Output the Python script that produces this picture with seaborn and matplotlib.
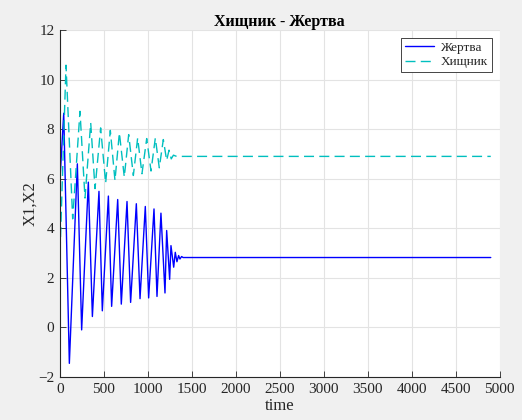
import numpy as np
import pandas as pd
import matplotlib
matplotlib.use("Agg")
import matplotlib.pyplot as plt
import seaborn as sns

# Prey (Жертва) vertices
prey_t = [0, 42, 106, 197, 246, 322, 368, 443, 481, 550, 587, 656, 697, 762, 803,
          868, 910, 970, 1008, 1069, 1103, 1148, 1194, 1213, 1247, 1262, 1293, 1311,
          1330, 1349, 1364, 1383, 1400, 4900]
prey_v = [6.0, 8.64, -1.45, 6.6, -0.1, 5.86, 0.44, 5.49, 0.67, 5.3, 0.85, 5.16, 0.94,
          5.08, 1.01, 4.99, 1.16, 4.88, 1.19, 4.78, 1.25, 4.61, 1.39, 3.91, 1.94, 3.3,
          2.43, 3.03, 2.65, 2.9, 2.76, 2.86, 2.82, 2.82]

# Predator (Хищник) vertices
pred_t = [0, 68, 144, 227, 284, 349, 398, 462, 519, 572, 625, 675, 731, 781, 834,
          883, 932, 986, 1035, 1084, 1129, 1175, 1213, 1240, 1265, 1290, 1326, 4900]
pred_v = [3.03, 10.58, 4.38, 8.72, 5.22, 8.25, 5.6, 8.05, 5.82, 7.95, 5.93, 7.85,
          6.07, 7.78, 6.13, 7.64, 6.2, 7.62, 6.31, 7.64, 6.44, 7.58, 6.74, 7.15,
          6.8, 6.95, 6.9, 6.9]

x_ticks = list(range(0, 5001, 500))
y_ticks = list(range(-2, 13, 2))

sns.set_style("whitegrid")
plt.rcParams['font.family'] = ['Liberation Serif', 'DejaVu Serif']

fig = plt.figure(figsize=(5.22, 4.2), dpi=100, facecolor='#f0f0f0')
ax = fig.add_axes([0.115, 0.1024, 0.842, 0.8262])
ax.set_facecolor('white')

sns.lineplot(x=prey_t, y=prey_v, ax=ax, color=(0, 0, 1), lw=1.0,
             estimator=None, sort=False, label='Жертва')
sns.lineplot(x=pred_t, y=pred_v, ax=ax, color=(0, 0.75, 0.75), lw=1.0,
             estimator=None, sort=False, label='Хищник', dashes=False)
ax.lines[1].set_dashes((7.2, 3.8))

ax.set_xlim(0, 5000)
ax.set_ylim(-2, 12)
ax.set_xticks(x_ticks)
ax.set_yticks(y_ticks)
ax.grid(True, color='#e3e3e3', lw=0.8)
for s in ['top', 'right']:
    ax.spines[s].set_visible(False)
for s in ['left', 'bottom']:
    ax.spines[s].set_visible(True)
    ax.spines[s].set_color('#262626')
    ax.spines[s].set_linewidth(0.8)
ax.tick_params(direction='in', length=4, width=0.6, colors='#262626',
               labelsize=11, left=True, bottom=True, labelcolor='#262626', pad=4)

ax.set_title('Хищник - Жертва', fontsize=11.5, fontweight='bold', color='black', pad=3)
ax.set_xlabel('time', fontsize=12, color='#262626', labelpad=2)
ax.set_ylabel('X1,X2', fontsize=12, color='#262626', labelpad=0)

leg = ax.legend(loc='upper right', fontsize=9.5, frameon=True, fancybox=False,
                handlelength=2.2, borderpad=0.3, labelspacing=0.15,
                borderaxespad=0.6, handletextpad=0.5)
leg.get_frame().set_edgecolor('#262626')
leg.get_frame().set_linewidth(0.6)
leg.get_frame().set_alpha(1)
leg.legend_handles[1].set_dashes((7.2, 3.8))

fig.savefig('out.png', dpi=100, facecolor=fig.get_facecolor())
